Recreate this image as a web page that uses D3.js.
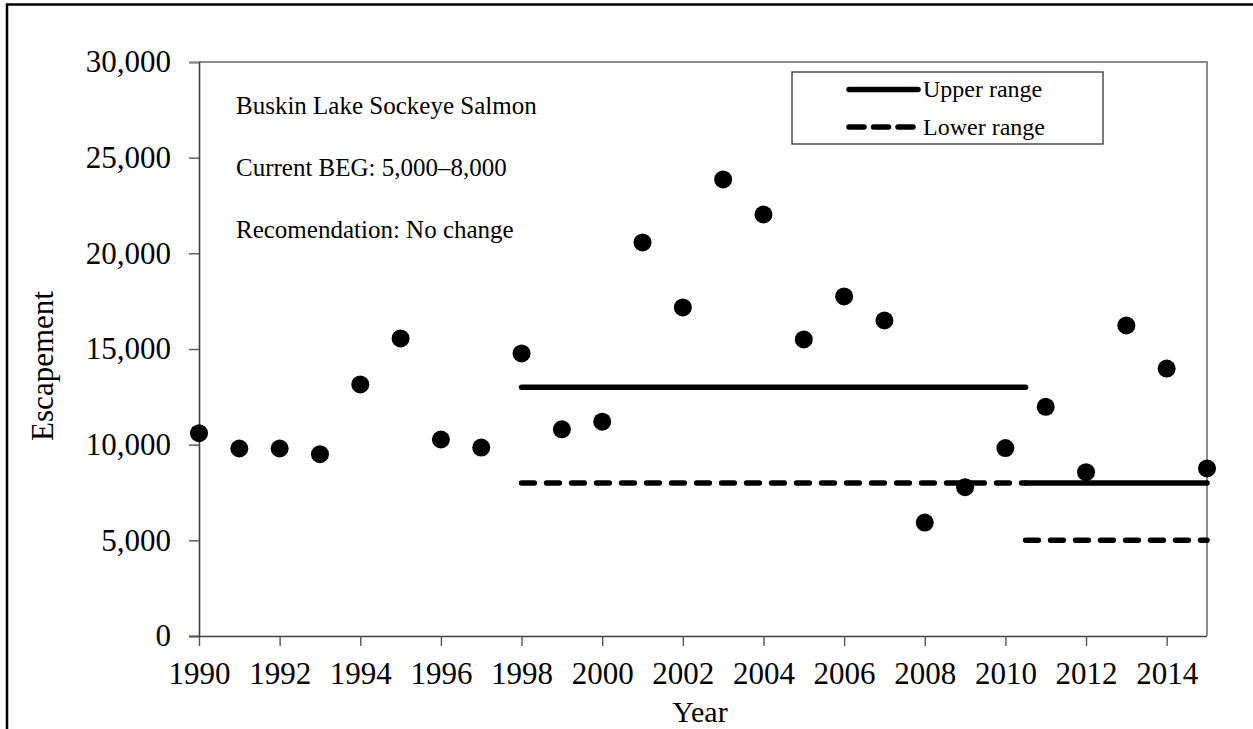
<!DOCTYPE html>
<html lang="en" dir="ltr">
  <head>
    <meta charset="utf-8">
    <title>Buskin Lake Sockeye Salmon</title>
    <style media="screen">
      body {
        margin: 0;
        background: white;
      }
      svg {
        display: block;
        font-family: "Liberation Serif", "Times New Roman", serif;
      }
      .axis text {
        font-family: "Liberation Serif", "Times New Roman", serif;
        font-size: 31px;
        fill: black;
      }
    </style>
  </head>
  <body>
    <script src="https://d3js.org/d3.v7.min.js"></script>
    <script type="text/javascript">

      // escapement by year
      const years = [1990, 1991, 1992, 1993, 1994, 1995, 1996, 1997, 1998, 1999,
                     2000, 2001, 2002, 2003, 2004, 2005, 2006, 2007, 2008, 2009,
                     2010, 2011, 2012, 2013, 2014, 2015]
      const escapement = [10600, 9800, 9800, 9500, 13150, 15550, 10270, 9850, 14770, 10800,
                          11200, 20570, 17170, 23860, 22030, 15500, 17750, 16490, 5930, 7780,
                          9820, 11980, 8560, 16230, 13980, 8760]

      // goal periods
      const rangeStart = [1998, 2010.5]
      const rangeEnd = [2010.5, 2015]
      const upperRange = [13000, 8000]
      const lowerRange = [8000, 5000]

      const xTicks = [1990, 1992, 1994, 1996, 1998, 2000, 2002, 2004, 2006, 2008, 2010, 2012, 2014]
      const yTicks = [0, 5000, 10000, 15000, 20000, 25000, 30000]

      const notes = ["Buskin Lake Sockeye Salmon", "Current BEG: 5,000\u20138,000", "Recomendation: No change"]
      const legendLabels = ["Upper range", "Lower range"]

      const w = 1253
      const h = 729
      const plotLeft = 199
      const plotRight = 1207
      const plotTop = 62
      const plotBottom = 636

      const dash = "12.8 12.2"

      const xScale = d3.scaleLinear()
        .domain([1990, 2015])
        .range([plotLeft, plotRight])

      const yScale = d3.scaleLinear()
        .domain([0, 30000])
        .range([plotBottom, plotTop])

      const svg = d3.select("body")
        .append("svg")
        .attr("width", w)
        .attr("height", h)

      // outer frame (only left and top show)
      svg.append("path")
        .attr("d", `M7,${h + 10} V4.5 H${w + 10}`)
        .attr("fill", "none")
        .attr("stroke", "black")
        .attr("stroke-width", 2.5)

      // plot border, grey on top and right
      svg.append("path")
        .attr("d", `M${plotLeft},${plotTop} H${plotRight} V${plotBottom}`)
        .attr("fill", "none")
        .attr("stroke", "#8c8c8c")
        .attr("stroke-width", 2)

      // axes
      const xAxis = d3.axisBottom(xScale)
        .tickValues(xTicks)
        .tickFormat(d3.format("d"))
        .tickSizeOuter(0)
        .tickSize(10)
        .tickPadding(16)

      const yAxis = d3.axisLeft(yScale)
        .tickValues(yTicks)
        .tickFormat(d3.format(","))
        .tickSizeOuter(0)
        .tickSize(10)
        .tickPadding(18)

      const gx = svg.append("g")
        .attr("class", "axis")
        .attr("transform", `translate(0, ${plotBottom})`)
        .call(xAxis)

      const gy = svg.append("g")
        .attr("class", "axis")
        .attr("transform", `translate(${plotLeft}, 0)`)
        .call(yAxis)

      gx.select(".domain").attr("stroke", "#404040").attr("stroke-width", 1.6)
        .attr("d", `M${plotLeft - 10},0.5H${plotRight}`)
      gy.select(".domain").attr("stroke", "#404040").attr("stroke-width", 1.6)
      gx.selectAll(".tick line").attr("stroke", "#555").attr("stroke-width", 1.4)
      gy.selectAll(".tick line").attr("stroke", "#555").attr("stroke-width", 1.4)
      gy.selectAll(".tick").filter(d => d === 30000).select("line").attr("stroke", "#8c8c8c").attr("stroke-width", 2)
      gx.selectAll(".tick text").attr("dy", "0.71em")

      // axis titles
      svg.append("text")
        .attr("x", 700)
        .attr("y", 722)
        .attr("text-anchor", "middle")
        .attr("font-size", "30px")
        .text("Year")

      svg.append("text")
        .attr("transform", "translate(53, 366) rotate(-90)")
        .attr("text-anchor", "middle")
        .attr("font-size", "31px")
        .text("Escapement")

      // goal ranges
      const periods = rangeStart.map((s, i) => ({s: s, e: rangeEnd[i], up: upperRange[i], lo: lowerRange[i]}))

      svg.selectAll(".upper")
        .data(periods)
        .enter()
        .append("line")
        .attr("class", "upper")
        .attr("x1", d => xScale(d.s))
        .attr("x2", d => xScale(d.e))
        .attr("y1", d => yScale(d.up))
        .attr("y2", d => yScale(d.up))
        .attr("stroke", "black")
        .attr("stroke-width", 5.5)
        .attr("stroke-linecap", "round")

      svg.selectAll(".lower")
        .data(periods)
        .enter()
        .append("line")
        .attr("class", "lower")
        .attr("x1", d => xScale(d.s))
        .attr("x2", d => xScale(d.e))
        .attr("y1", d => yScale(d.lo))
        .attr("y2", d => yScale(d.lo))
        .attr("stroke", "black")
        .attr("stroke-width", 5.5)
        .attr("stroke-linecap", "round")
        .attr("stroke-dasharray", dash)

      // escapement dots
      svg.selectAll(".dot")
        .data(years)
        .enter()
        .append("circle")
        .attr("class", "dot")
        .attr("cx", d => xScale(d))
        .attr("cy", (d, i) => yScale(escapement[i]))
        .attr("r", 9)
        .attr("fill", "black")

      // notes
      svg.selectAll(".note")
        .data(notes)
        .enter()
        .append("text")
        .attr("class", "note")
        .attr("x", 236)
        .attr("y", (d, i) => 114 + i * 62)
        .attr("font-size", "25px")
        .text(d => d)

      // legend
      const legend = svg.append("g")

      legend.append("rect")
        .attr("x", 792)
        .attr("y", 72)
        .attr("width", 311)
        .attr("height", 72)
        .attr("fill", "white")
        .attr("stroke", "#333")
        .attr("stroke-width", 1.3)

      const rows = legend.selectAll(".row")
        .data(legendLabels)
        .enter()
        .append("g")
        .attr("class", "row")
        .attr("transform", (d, i) => `translate(0, ${89.5 + i * 37.5})`)

      rows.append("line")
        .attr("x1", 849)
        .attr("x2", 918)
        .attr("stroke", "black")
        .attr("stroke-width", 5.5)
        .attr("stroke-linecap", "round")
        .attr("stroke-dasharray", (d, i) => i === 1 ? "15 9.5" : null)

      rows.append("text")
        .attr("x", 923)
        .attr("dy", "0.33em")
        .attr("font-size", "24px")
        .text(d => d)

    </script>
  </body>
</html>
